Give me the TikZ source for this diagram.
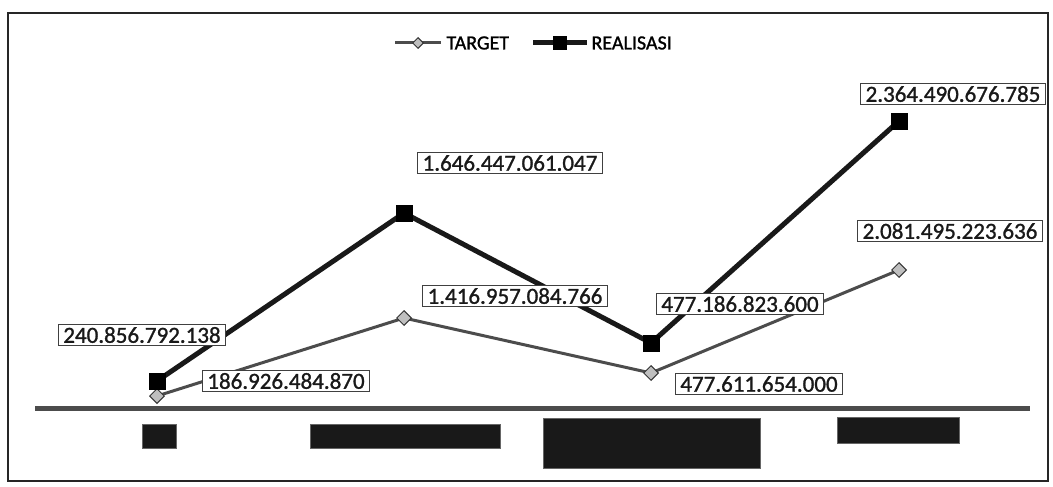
\documentclass[tikz,border=0pt]{standalone}
\usepackage{fontspec}
\setmainfont{Carlito}
\newfontfamily\lblfont[FakeBold=1.2]{Carlito}
\usetikzlibrary{shapes.geometric}
\tikzset{
  lbl/.style={draw=black!75, line width=0.9pt, fill=white, inner xsep=5pt, inner ysep=3pt,
    font=\lblfont\fontsize{23}{26}\selectfont, text=black!90},
  sqmark/.style={rectangle, fill=black, draw=black, minimum size=16pt, inner sep=0pt},
  dmmark/.style={diamond, fill=black!25, draw=black!80, line width=1pt, minimum size=15pt, inner sep=0pt},
  realline/.style={line width=5pt, black!90},
  targline/.style={line width=3pt, black!70},
  redact/.style={fill=black!90, draw=black!60, line width=0.6pt},
  legtext/.style={font=\lblfont\fontsize{20}{24}\selectfont, anchor=west}
}
\begin{document}
\begin{tikzpicture}[x=1pt,y=-1pt]
\useasboundingbox (0,0) rectangle (1053,487);
% frame
\draw[line width=1.6pt, black!85] (8,13) rectangle (1048,481);
% legend
\coordinate (lt1) at (395,43);
\coordinate (lt2) at (441,43);
\draw[targline] (lt1) -- (lt2);
\node[dmmark, minimum size=11pt] (ltm) at (418,43) {};
\node[legtext] (ltt) at (443,43) {TARGET};
\coordinate (lr1) at (533,43);
\coordinate (lr2) at (587,43);
\draw[realline] (lr1) -- (lr2);
\node[sqmark, minimum size=13pt] (lrm) at (560,43) {};
\node[legtext] (lrt) at (588,43) {REALISASI};
% axis
\coordinate (ax1) at (35,408);
\coordinate (ax2) at (1030,408);
\draw[line width=5pt, black!70] (ax1) -- (ax2);
% category labels (obscured)
\filldraw[redact] (142,424) rectangle (176,448);
\filldraw[redact] (310,424) rectangle (500,448);
\filldraw[redact] (543,418) rectangle (760,468);
\filldraw[redact] (837,417) rectangle (959,443);
% data points
\coordinate (r1) at (157,381);
\coordinate (r2) at (404,213);
\coordinate (r3) at (651,343);
\coordinate (r4) at (899,121);
\coordinate (t1) at (157,396);
\coordinate (t2) at (404,318);
\coordinate (t3) at (651,373);
\coordinate (t4) at (899,270);
% target series
\draw[targline] (t1) -- (t2) -- (t3) -- (t4);
% realisasi series
\draw[realline] (r1) -- (r2) -- (r3) -- (r4);
% labels
\node[lbl] (lr1b) at (142,335) {240.856.792.138};
\node[lbl] (lt1b) at (286,381) {186.926.484.870};
\node[lbl] (lr2b) at (510,163) {1.646.447.061.047};
\node[lbl] (lt2b) at (515,296) {1.416.957.084.766};
\node[lbl] (lr3b) at (740,304) {477.186.823.600};
\node[lbl] (lt3b) at (759,384) {477.611.654.000};
\node[lbl] (lr4b) at (953,94) {2.364.490.676.785};
\node[lbl] (lt4b) at (950,231) {2.081.495.223.636};
% markers
\foreach \p in {t1,t2,t3,t4} \node[dmmark] (m\p) at (\p) {};
\foreach \p in {r1,r2,r3,r4} \node[sqmark] (m\p) at (\p) {};
\end{tikzpicture}
\end{document}
